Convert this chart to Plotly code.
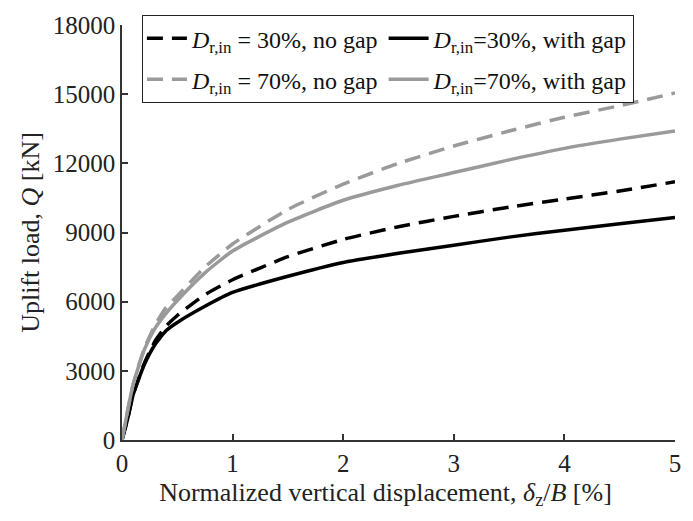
import plotly.graph_objects as go

x = [0, 0.05, 0.1, 0.2, 0.3, 0.4, 0.5, 0.75, 1.0, 1.5, 2.0, 2.5, 3.0, 3.5, 4.0, 4.5, 5.0]

q30_nogap = [0, 900, 1950, 3300, 4300, 4950, 5400, 6300, 6950, 7950, 8700, 9250, 9700, 10100, 10450, 10800, 11200]
q30_gap = [0, 900, 1950, 3250, 4150, 4750, 5100, 5800, 6400, 7100, 7700, 8100, 8450, 8800, 9100, 9380, 9650]
q70_nogap = [0, 1250, 2400, 3950, 5000, 5750, 6250, 7500, 8500, 10000, 11100, 12000, 12750, 13400, 14000, 14500, 15050]
q70_gap = [0, 1250, 2400, 3900, 4850, 5500, 6050, 7250, 8200, 9450, 10400, 11050, 11600, 12150, 12650, 13050, 13400]

y_ticks = [0, 3000, 6000, 9000, 12000, 15000, 18000]
x_ticks = [0, 1, 2, 3, 4, 5]

names = [
    "<i>D</i><sub>r,in</sub> = 30%, no gap",
    "<i>D</i><sub>r,in</sub>=30%, with gap",
    "<i>D</i><sub>r,in</sub> = 70%, no gap",
    "<i>D</i><sub>r,in</sub>=70%, with gap",
]
series = [q30_nogap, q30_gap, q70_nogap, q70_gap]
colors = ["#000000", "#000000", "#9a9a9a", "#9a9a9a"]
dashes = ["16px,9px", "solid", "16px,9px", "solid"]

FONT = "Liberation Serif, Times New Roman, serif"

fig = go.Figure()
for i, (n, s, c, d) in enumerate(zip(names, series, colors, dashes)):
    fig.add_trace(go.Scatter(
        x=x, y=s, mode="lines", name=n, legendgroup=f"g{i}",
        line=dict(color=c, width=3.5, dash=d, shape="spline", smoothing=0.5),
    ))

fig.update_layout(
    width=693, height=521,
    margin=dict(l=122, r=18, t=20, b=81),
    paper_bgcolor="white", plot_bgcolor="white",
    font=dict(family=FONT, size=24, color="#222"),
    legend=dict(
        orientation="h", x=0.036, y=1.024, xanchor="left", yanchor="top",
        bgcolor="white", bordercolor="#222", borderwidth=1,
        font=dict(family=FONT, size=24, color="#111"),
        tracegroupgap=7, itemwidth=40,
    ),
    showlegend=True,
)
fig.update_xaxes(
    range=[0, 5], tickvals=x_ticks, ticktext=[str(v) for v in x_ticks],
    showline=True, linecolor="#333", linewidth=1.5,
    ticks="inside", ticklen=6, tickcolor="#333", tickwidth=1.5,
    showgrid=False, zeroline=False,
    tickfont=dict(size=25, color="#222"),
    title=dict(text="Normalized vertical displacement, <i>δ</i><sub>z</sub>/<i>B</i> [%]&nbsp;&nbsp;&nbsp;&nbsp;",
               font=dict(size=26, color="#222"), standoff=7),
)
fig.update_yaxes(
    range=[0, 18000], tickvals=y_ticks, ticktext=[str(v) for v in y_ticks],
    showline=True, linecolor="#333", linewidth=1.5,
    ticks="inside", ticklen=6, tickcolor="#333", tickwidth=1.5,
    showgrid=False, zeroline=False,
    tickfont=dict(size=25, color="#222"),
    title=dict(text="Uplift load, <i>Q</i> [kN]", font=dict(size=26, color="#222"), standoff=6),
)

fig.write_html("out.html")
